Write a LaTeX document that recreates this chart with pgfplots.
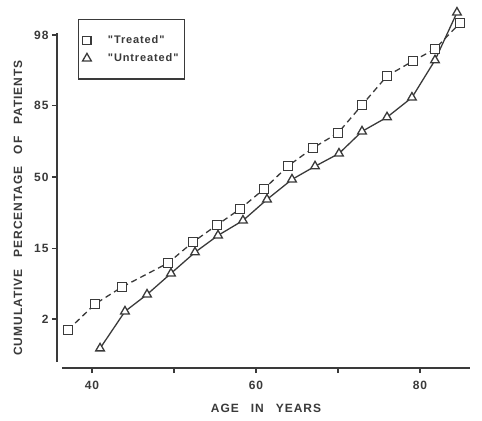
\documentclass[border=0pt]{standalone}
\usepackage{fontspec}
\setmainfont{Liberation Sans}
\newfontfamily\lab{Liberation Sans}[LetterSpace=8]
\usepackage{pgfplots}
\pgfplotsset{compat=1.18}
\definecolor{ink}{HTML}{3A3A3A}

\pgfplotstableread{
age z
37.07 -2.214
40.37 -1.838
43.66 -1.592
49.27 -1.245
52.32 -0.941
55.24 -0.695
58.05 -0.463
60.98 -0.174
63.90 0.159
66.95 0.420
70.00 0.637
72.93 1.042
75.98 1.462
79.15 1.679
81.83 1.852
84.88 2.229
}\treated

\pgfplotstableread{
age z
40.98 -2.480
44.02 -1.945
46.71 -1.700
49.63 -1.395
52.56 -1.090
55.37 -0.845
58.41 -0.630
61.34 -0.325
64.39 -0.035
67.20 0.155
70.12 0.340
72.93 0.660
75.98 0.865
79.02 1.150
81.83 1.690
84.51 2.380
}\untreated

\begin{document}
\begin{tikzpicture}
\begin{axis}[
  scale only axis, width=408bp, height=329bp,
  xmin=36.34, xmax=86.1, ymin=-2.677, ymax=2.084,
  axis lines=left,
  axis line style={-, line width=1.4bp, ink},
  axis x line shift=6bp, axis y line shift=5bp,
  xtick={40,50,60,70,80}, xticklabels={40,,60,,80},
  ytick={-2.054,-1.036,0,1.036,2.054}, yticklabels={2,15,50,85,98},
  tick style={ink, line width=1.2bp},
  tick align=outside, major tick length=5bp,
  tick label style={font=\lab\bfseries\fontsize{12bp}{14bp}\selectfont, text=ink},
  xticklabel style={yshift=-5bp},
  xlabel={AGE\hspace{1em}IN\hspace{1em}YEARS},
  ylabel={CUMULATIVE\hspace{1em}PERCENTAGE\hspace{1em}OF\hspace{1em}PATIENTS},
  label style={font=\lab\bfseries\fontsize{12bp}{14bp}\selectfont, text=ink},
  xlabel style={at={(axis description cs:0.5,-0.14)}, anchor=center},
  ylabel style={at={(axis description cs:-0.108,0.468)}, anchor=center},
  legend style={at={(axis description cs:0.039,1.0426)}, anchor=north west,
    draw=ink, line width=1.4bp, text=ink,
    font=\lab\bfseries\fontsize{11bp}{13bp}\selectfont,
    inner xsep=4bp, inner ysep=14bp, row sep=4.5bp,
    cells={inner xsep=1bp, inner ysep=3bp, text height=8bp, text depth=2bp}},
  legend cell align=left,
  legend image code/.code={\path[draw=none] (0bp,0bp) -- (23bp,0bp);
    \draw[#1,solid] plot[only marks] coordinates {(4bp,0bp)};},
  clip=false,
]
\addplot[ink, line width=1.3bp, dash pattern=on 6bp off 4bp,
  mark=square*, mark size=4.2bp, mark options={solid, fill=white, draw=ink, line width=1.3bp}]
  table[x=age,y=z] {\treated};
\addlegendentry{"Treated"}
\addplot[ink, line width=1.3bp,
  mark=triangle*, mark size=5bp, mark options={solid, fill=white, draw=ink, line width=1.3bp}]
  table[x=age,y=z] {\untreated};
\addlegendentry{"Untreated"}
\coordinate (O) at (axis cs:36.34,-2.677);
\end{axis}
\useasboundingbox ([shift={(-62bp,-59bp)}]O) rectangle ([shift={(420bp,362bp)}]O);
\end{tikzpicture}
\end{document}
